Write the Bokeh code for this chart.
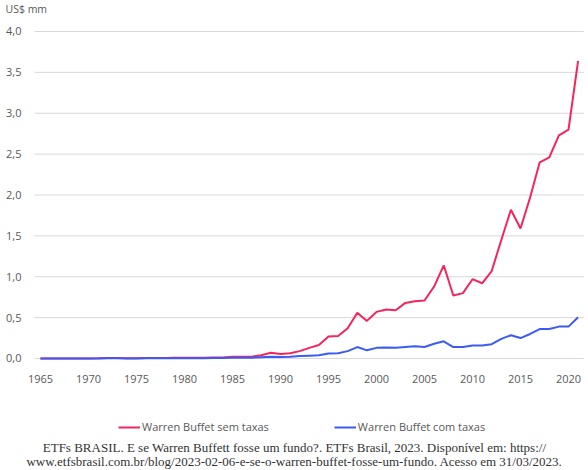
from bokeh.plotting import figure
from bokeh.models import Legend, LegendItem, Label, ColumnDataSource, Range1d
from bokeh.core.properties import value
from bokeh.embed import file_html
from bokeh.resources import INLINE

years = list(range(1965, 2022))
sem_taxas = [0.0, 0.0, 0.0, 0.001, 0.001, 0.001, 0.003, 0.006, 0.005, 0.002,
             0.003, 0.005, 0.006, 0.006, 0.008, 0.008, 0.009, 0.010, 0.012, 0.013,
             0.020, 0.020, 0.022, 0.040, 0.070, 0.055, 0.065, 0.090, 0.130, 0.165,
             0.270, 0.275, 0.370, 0.560, 0.460, 0.570, 0.600, 0.590, 0.680, 0.700,
             0.710, 0.880, 1.140, 0.770, 0.800, 0.970, 0.920, 1.070, 1.450, 1.820,
             1.590, 1.970, 2.400, 2.460, 2.730, 2.800, 3.640]
com_taxas = [0.0, 0.0, 0.0, 0.0, 0.001, 0.001, 0.001, 0.002, 0.002, 0.001,
             0.001, 0.002, 0.002, 0.002, 0.003, 0.003, 0.003, 0.004, 0.005, 0.006,
             0.008, 0.010, 0.010, 0.015, 0.020, 0.018, 0.020, 0.030, 0.035, 0.040,
             0.060, 0.065, 0.090, 0.140, 0.100, 0.130, 0.135, 0.130, 0.140, 0.150,
             0.140, 0.180, 0.210, 0.140, 0.140, 0.160, 0.160, 0.175, 0.240, 0.285,
             0.250, 0.300, 0.360, 0.360, 0.390, 0.390, 0.505]
x_ticks = [1965, 1970, 1975, 1980, 1985, 1990, 1995, 2000, 2005, 2010, 2015, 2020]
x_tick_labels = [str(t) for t in x_ticks]
y_ticks = [0.0, 0.5, 1.0, 1.5, 2.0, 2.5, 3.0, 3.5, 4.0]
y_tick_labels = ["0,0", "0,5", "1,0", "1,5", "2,0", "2,5", "3,0", "3,5", "4,0"]
series_names = ["Warren Buffet sem taxas", "Warren Buffet com taxas"]
unit_label = "US$ mm"
source_lines = [
    "ETFs BRASIL. E se Warren Buffett fosse um fundo?. ETFs Brasil, 2023. Disponível em: https://",
    "www.etfsbrasil.com.br/blog/2023-02-06-e-se-o-warren-buffet-fosse-um-fundo. Acesso em 31/03/2023.",
]

RED = "#F5245A"
BLUE = "#3B5BF5"
SANS = "Open Sans"
TXT = "#595959"

# plotting area (in data units)
X_START, X_END = 1960.833, 2022.083
Y_START, Y_END = -1.370, 4.379
GRID_X0, GRID_X1 = 1964.375, 2021.6     # horizontal extent of grid lines
XLAB_Y = -0.245                          # level of the year labels
YLAB_X = 1963.02                         # right edge of the value labels

src = ColumnDataSource(dict(year=years, sem=sem_taxas, com=com_taxas))
xt_src = ColumnDataSource(dict(x=x_ticks, label=x_tick_labels, y=[XLAB_Y] * len(x_ticks)))
yt_src = ColumnDataSource(dict(y=y_ticks, label=y_tick_labels, x=[YLAB_X] * len(y_ticks),
                               x0=[GRID_X0] * len(y_ticks), x1=[GRID_X1] * len(y_ticks)))

p = figure(width=588, height=470, output_backend="svg", toolbar_location=None,
           x_range=Range1d(X_START, X_END), y_range=Range1d(Y_START, Y_END),
           min_border=0, x_axis_location=None, y_axis_location=None)
p.outline_line_color = None
p.background_fill_color = "white"
p.border_fill_color = "white"
p.xgrid.grid_line_color = None
p.ygrid.grid_line_color = None

# horizontal grid lines at the value ticks
p.segment(x0="x0", x1="x1", y0="y", y1="y", source=yt_src,
          line_color="#D9D9D9", line_width=1)

r_sem = p.line("year", "sem", source=src, line_color=RED, line_width=2)
r_com = p.line("year", "com", source=src, line_color=BLUE, line_width=2)

# tick labels
p.text(x="x", y="y", text="label", source=xt_src, text_font=value(SANS),
       text_font_size="11px", text_color=TXT, text_align="center", text_baseline="middle")
p.text(x="x", y="y", text="label", source=yt_src, text_font=value(SANS),
       text_font_size="11px", text_color=TXT, text_align="right", text_baseline="middle")

p.add_layout(Label(x=5, y=462, x_units="screen", y_units="screen", text=unit_label,
                   text_font=SANS, text_font_size="10.5px", text_color=TXT,
                   text_align="left", text_baseline="middle"))

legend = Legend(items=[LegendItem(label=series_names[0], renderers=[r_sem]),
                       LegendItem(label=series_names[1], renderers=[r_com])],
                orientation="horizontal", location=(118, 36),
                padding=0, margin=0, spacing=65, glyph_width=22, glyph_height=14,
                label_standoff=2, label_text_font=SANS, label_text_font_size="11px",
                label_text_color=TXT, background_fill_alpha=0, border_line_color=None)
p.add_layout(legend, "center")

for line, yy in zip(source_lines, [23, 9]):
    p.add_layout(Label(x=294, y=yy, x_units="screen", y_units="screen", text=line,
                       text_font="Liberation Serif", text_font_size="13px",
                       text_color="#333333", text_align="center", text_baseline="middle"))

open("out.html", "w").write(file_html(p, INLINE))
